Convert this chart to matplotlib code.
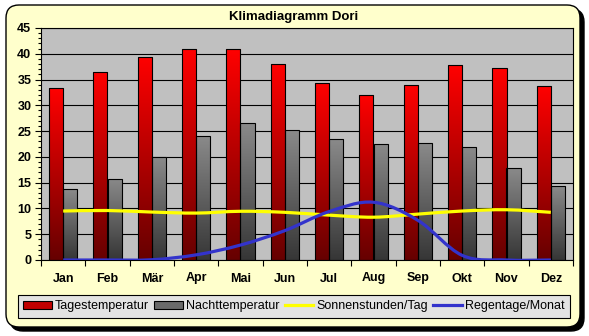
import numpy as np
import matplotlib
matplotlib.use('Agg')
import matplotlib.pyplot as plt
from matplotlib.colors import LinearSegmentedColormap
from matplotlib.patches import FancyBboxPatch, PathPatch, Patch
from matplotlib.path import Path
from matplotlib.lines import Line2D

plt.rcParams['font.family'] = ['Liberation Sans', 'DejaVu Sans']

# data
months = ['Jan', 'Feb', 'Mär', 'Apr', 'Mai', 'Jun', 'Jul', 'Aug', 'Sep', 'Okt', 'Nov', 'Dez']
tagestemp = [33.3, 36.5, 39.4, 40.9, 40.9, 38.0, 34.3, 32.1, 33.9, 37.8, 37.2, 33.7]
nachttemp = [13.7, 15.8, 19.9, 24.0, 26.5, 25.2, 23.4, 22.5, 22.6, 22.0, 17.8, 14.3]
sonne = [9.5, 9.6, 9.3, 9.1, 9.45, 9.25, 8.7, 8.3, 8.9, 9.5, 9.75, 9.25]
regen = [0.0, 0.0, 0.05, 1.0, 2.9, 5.7, 9.4, 11.2, 7.7, 0.9, 0.0, 0.0]

fig = plt.figure(figsize=(5.89, 3.36), dpi=100)
fig.patch.set_facecolor('white')

# outer frame with shadow
shadow = FancyBboxPatch((0.10, 0.05), 5.74, 3.22, boxstyle='round,pad=0,rounding_size=0.13',
                        transform=fig.dpi_scale_trans, facecolor='black', edgecolor='black', zorder=-2)
frame = FancyBboxPatch((0.06, 0.09), 5.74, 3.22, boxstyle='round,pad=0,rounding_size=0.13',
                       transform=fig.dpi_scale_trans, facecolor='#FFFFCC', edgecolor='black',
                       linewidth=1.0, zorder=-1)
fig.patches.extend([shadow, frame])

ax = fig.add_axes([41 / 589, 1 - 260 / 336, 532 / 589, 232 / 336])
ax.set_facecolor('#C0C0C0')
ax.set_axisbelow(True)

x = np.arange(len(months))
w = 0.316
bars_t = ax.bar(x - w / 2, tagestemp, w, edgecolor='black', linewidth=0.8, zorder=3)
bars_n = ax.bar(x + w / 2, nachttemp, w, edgecolor='black', linewidth=0.8, zorder=3)


def gradient_bars(bars, top, bottom):
    cmap = LinearSegmentedColormap.from_list('g', [bottom, top])
    grad = np.linspace(0, 1, 256).reshape(-1, 1)
    for b in bars:
        bx, by = b.get_xy()
        im = ax.imshow(grad, extent=[bx, bx + b.get_width(), by, by + b.get_height()],
                       origin='lower', aspect='auto', cmap=cmap, zorder=2.5)
        im.set_clip_path(b)
        b.set_facecolor('none')


gradient_bars(bars_t, '#FF0000', '#660000')
gradient_bars(bars_n, '#8A8A8A', '#363636')


def smooth_path(xs, ys):
    pts = np.column_stack([xs, ys]).astype(float)
    n = len(pts)
    verts = [pts[0]]
    codes = [Path.MOVETO]
    for i in range(n - 1):
        p0 = pts[max(i - 1, 0)]
        p1 = pts[i]
        p2 = pts[i + 1]
        p3 = pts[min(i + 2, n - 1)]
        verts += [p1 + (p2 - p0) / 6, p2 - (p3 - p1) / 6, p2]
        codes += [Path.CURVE4] * 3
    return Path(verts, codes)


ax.add_patch(PathPatch(smooth_path(x, sonne), fill=False, edgecolor='#FFFF00', linewidth=2.3, zorder=4))
ax.add_patch(PathPatch(smooth_path(x, regen), fill=False, edgecolor='#3333CC', linewidth=2.3, zorder=5))

ax.set_xlim(-0.5, 11.5)
ax.set_ylim(0, 45)
ax.set_yticks(np.arange(0, 46, 5))
ax.set_yticks(np.arange(0, 46, 1), minor=True)
ax.yaxis.grid(True, which='major', color='black', linewidth=0.8, zorder=0.5)
ax.tick_params(axis='y', which='major', length=4, width=0.8, pad=3, labelsize=9)
ax.tick_params(axis='y', which='minor', length=2.2, width=0.8)
for lab in ax.get_yticklabels():
    lab.set_fontweight('bold')

ax.set_xticks(np.arange(-0.5, 12, 1))
ax.set_xticklabels([])
ax.set_xticks(x, minor=True)
ax.set_xticklabels(months, minor=True, fontweight='bold', fontsize=9)
ax.tick_params(axis='x', which='major', length=4, width=0.8)
ax.tick_params(axis='x', which='minor', length=0, pad=9)
for s in ax.spines.values():
    s.set_linewidth(0.8)
    s.set_color('black')

fig.text(294 / 589, 1 - 17 / 336, 'Klimadiagramm Dori', ha='center', va='center',
         fontsize=9.5, fontweight='bold')

handles = [
    Patch(facecolor='#C00000', edgecolor='black', linewidth=0.8),
    Patch(facecolor='#6A6A6A', edgecolor='black', linewidth=0.8),
    Line2D([], [], color='#FFFF00', linewidth=2.3),
    Line2D([], [], color='#3333CC', linewidth=2.3),
]
labels = ['Tagestemperatur', 'Nachttemperatur', 'Sonnenstunden/Tag', 'Regentage/Monat']
leg = fig.legend(handles, labels, loc='center', bbox_to_anchor=(294 / 589, 1 - 306.5 / 336),
                 ncol=4, fontsize=9, frameon=True, fancybox=False, framealpha=1,
                 facecolor='#E3E3E3', edgecolor='black', handlelength=2.3, handleheight=0.55,
                 handletextpad=0.25, columnspacing=0.4, borderpad=0.45, borderaxespad=0)
leg.get_frame().set_linewidth(0.8)

fig.savefig('out.png', dpi=100)
